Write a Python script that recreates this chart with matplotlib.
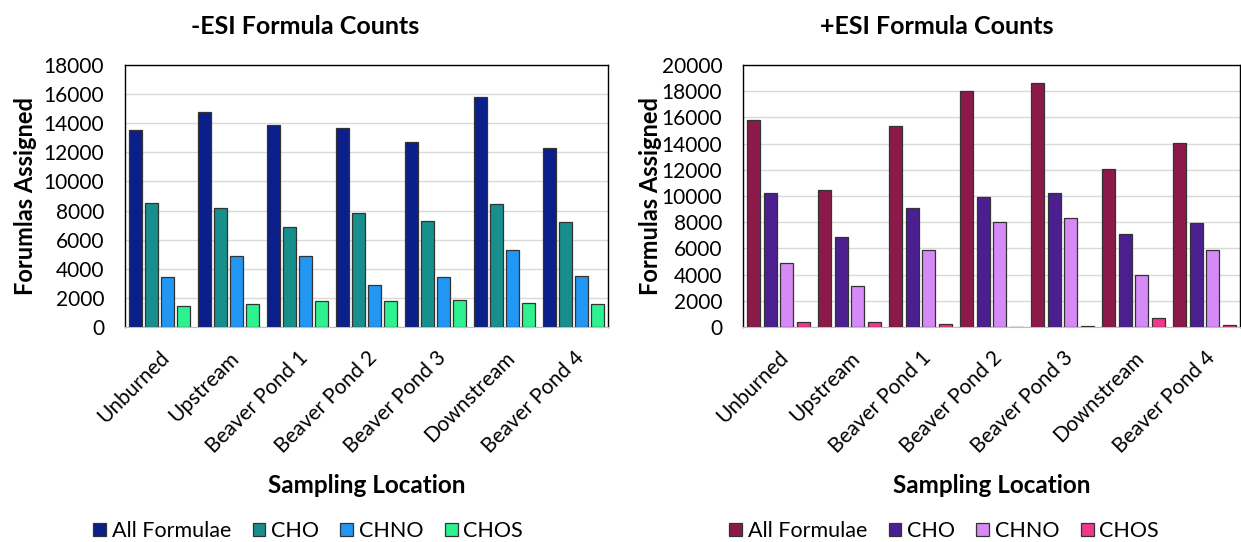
import numpy as np
import matplotlib.pyplot as plt
import matplotlib.transforms as mtransforms

plt.rcParams['font.family'] = ['Lato', 'DejaVu Sans']

locations = ['Unburned', 'Upstream', 'Beaver Pond 1', 'Beaver Pond 2',
             'Beaver Pond 3', 'Downstream', 'Beaver Pond 4']
series = ['All Formulae', 'CHO', 'CHNO', 'CHOS']

# -ESI counts
neg_all = [13500, 14800, 13850, 13650, 12700, 15800, 12300]
neg_cho = [8500, 8150, 6900, 7850, 7300, 8450, 7200]
neg_chno = [3450, 4900, 4850, 2900, 3450, 5300, 3500]
neg_chos = [1450, 1550, 1800, 1800, 1850, 1650, 1550]

# +ESI counts
pos_all = [15800, 10450, 15350, 18000, 18600, 12050, 14050]
pos_cho = [10200, 6900, 9050, 9950, 10200, 7100, 7900]
pos_chno = [4900, 3100, 5900, 8050, 8300, 3950, 5900]
pos_chos = [350, 350, 250, 0, 50, 650, 150]

neg_colors = ['#0b1f8a', '#178f8c', '#2196f3', '#2ef28f']
pos_colors = ['#8b1a4b', '#4b1f8f', '#d58af5', '#f0388c']


def draw(fig, ax, data, colors, ymax, ylabel, ypad):
    x = np.arange(len(locations))
    width = 0.188
    step = 0.232
    for i, vals in enumerate(data):
        ax.bar(x + (i - 1.5) * step, vals, width, color=colors[i],
               edgecolor='#333333', linewidth=0.9, label=series[i], zorder=3)
    ax.set_xlim(-0.5, len(locations) - 0.5)
    ax.set_ylim(0, ymax)
    ax.set_yticks(np.arange(0, ymax + 1, 2000))
    ax.yaxis.grid(True, color='#d9d9d9', linewidth=1, zorder=0)
    ax.set_xticks(x)
    ax.set_xticklabels(locations, rotation=45, ha='right',
                       rotation_mode='anchor', fontsize=15)
    # nudge rotated labels slightly left
    shift = mtransforms.ScaledTranslation(-6 / 100, 0, fig.dpi_scale_trans)
    for lab in ax.get_xticklabels():
        lab.set_transform(lab.get_transform() + shift)
    ax.tick_params(axis='y', labelsize=15, length=0, pad=15)
    ax.tick_params(axis='x', length=0, pad=15)
    for s in ['top', 'right', 'left']:
        ax.spines[s].set_color('black')
        ax.spines[s].set_linewidth(1)
    ax.spines['bottom'].set_color('#bfbfbf')
    ax.set_ylabel(ylabel, fontsize=17, fontweight='bold', labelpad=ypad)
    ax.set_xlabel('Sampling Location', fontsize=17.5, fontweight='bold',
                  labelpad=12)


fig = plt.figure(figsize=(12.41, 5.42), dpi=100)
ax1 = fig.add_axes([0.1007, 0.3967, 0.3892, 0.4834])
ax2 = fig.add_axes([0.5987, 0.3967, 0.4005, 0.4834])

draw(fig, ax1, [neg_all, neg_cho, neg_chno, neg_chos], neg_colors, 18000,
     'Forumlas Assigned', 5)
draw(fig, ax2, [pos_all, pos_cho, pos_chno, pos_chos], pos_colors, 20000,
     'Formulas Assigned', 0)

fig.text(305 / 1241, 1 - 27 / 542, '-ESI Formula Counts', ha='center',
         va='center', fontsize=18, fontweight='bold')
fig.text(937 / 1241, 1 - 27 / 542, '+ESI Formula Counts', ha='center',
         va='center', fontsize=18, fontweight='bold')

for ax, cx in [(ax1, 308 / 1241), (ax2, 944 / 1241)]:
    h, l = ax.get_legend_handles_labels()
    fig.legend(h, l, loc='center', bbox_to_anchor=(cx, 1 - 531 / 542),
               ncol=4, frameon=False, fontsize=15.5, handlelength=0.6,
               handleheight=0.6, handletextpad=0.25, columnspacing=1.0)

fig.savefig('out.png', dpi=100)
